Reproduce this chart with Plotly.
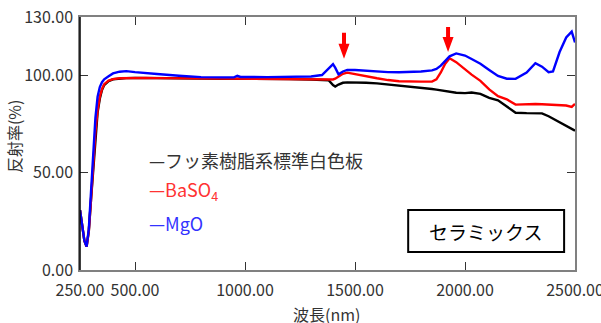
import plotly.graph_objects as go

# Wavelength grid (nm)
wavelength = [250, 260, 270, 280, 290, 300, 310, 320, 330, 340, 350, 360, 380, 400, 430, 460,
              500, 550, 600, 700, 800, 900, 950, 965, 980, 1100, 1200, 1300, 1350, 1380, 1400,
              1410, 1425, 1445, 1465, 1500, 1550, 1600, 1650, 1700, 1800, 1850, 1870, 1890, 1910,
              1930, 1960, 2000, 2030, 2070, 2110, 2150, 2190, 2230, 2280, 2320, 2350, 2380,
              2400, 2430, 2460, 2485, 2500]

# Reflectance (%) of each reference material
fluoro_resin = [30.8, 22, 15, 12, 20, 36, 52, 70, 81, 88, 92.5, 95, 97, 98, 98.4, 98.6,
                98.7, 98.7, 98.6, 98.5, 98.4, 98.3, 98.3, 98.3, 98.3, 98.2, 98.1, 97.9, 97.8, 97.5, 95.0,
                94.3, 95.3, 96.2, 96.4, 96.4, 96.2, 95.9, 95.4, 94.8, 93.6, 93.0, 92.7, 92.4, 92.0,
                91.6, 91.1, 90.9, 91.2, 90.5, 88.4, 87.2, 84.0, 80.8, 80.6, 80.6, 80.5, 79.0,
                77.8, 76.0, 74.2, 72.6, 71.6]
baso4 = [30.8, 22, 15, 12, 20, 36, 53, 71, 82, 89, 93, 95.5, 97.3, 98.1, 98.5, 98.6,
         98.7, 98.7, 98.6, 98.5, 98.4, 98.3, 98.3, 98.3, 98.3, 98.2, 98.1, 97.9, 97.8, 97.7, 97.9,
         98.3, 99.5, 100.8, 101.4, 100.6, 99.4, 98.5, 97.6, 97.0, 96.8, 96.8, 98.0, 101.5, 106.0,
         108.8, 106.8, 103.0, 100.4, 97.2, 92.8, 89.3, 87.7, 85.0, 85.3, 85.3, 85.2, 85.0,
         85.1, 84.8, 84.5, 83.8, 85.3]
mgo = [30.8, 22, 15, 12, 21, 40, 60, 78, 89, 94, 96.5, 98, 99.5, 101, 101.9, 102.2,
       101.7, 101.1, 100.7, 99.8, 99.1, 99.0, 99.0, 99.8, 99.2, 99.1, 99.2, 99.4, 100.2, 103.5, 105.8,
       104.0, 100.6, 102.0, 102.8, 102.8, 102.4, 102.0, 101.7, 101.6, 102.0, 102.6, 103.3, 105.0, 107.5,
       109.8, 111.3, 110.2, 108.4, 106.0, 102.8, 99.7, 98.3, 98.2, 101.5, 106.3, 104.5, 101.6,
       102.0, 112.0, 119.5, 122.5, 116.9]

series_names = ["フッ素樹脂系標準白色板", "BaSO<sub>4</sub>", "MgO"]
series_values = [fluoro_resin, baso4, mgo]
series_colors = ["#000000", "#ff0000", "#0000ff"]
label_colors = ["#333333", "#ff3333", "#3333ff"]

x_ticks = [250, 500, 1000, 1500, 2000, 2500]
y_ticks = [0, 50, 100, 130]

# Red marker arrows at the absorption features (wavelength, tip reflectance)
arrow_wl = [1450, 1923]
arrow_tip = [108.5, 112.0]
arrow_shaft = [26, 25]

FONT = "Noto Sans CJK JP"

fig = go.Figure()
for vals, col in zip(series_values, series_colors):
    fig.add_trace(go.Scatter(x=wavelength, y=vals, mode="lines",
                             line=dict(color=col, width=2.4), showlegend=False,
                             hoverinfo="skip"))

shapes = []
for wl, tip, shaft in zip(arrow_wl, arrow_tip, arrow_shaft):
    path = (f"M 0 0 L -5.5 15 L -2 15 L -2 {shaft} L 2 {shaft} "
            f"L 2 15 L 5.5 15 Z")
    shapes.append(dict(type="path", xref="x", yref="y", xsizemode="pixel",
                       ysizemode="pixel", xanchor=wl, yanchor=tip, path=path,
                       fillcolor="#ff0000", line=dict(width=0)))

# left axis line drawn in black over the grey frame
shapes.append(dict(type="line", xref="paper", yref="paper", x0=0, x1=0, y0=0, y1=1,
                   line=dict(color="#000000", width=1.5)))
# label box
shapes.append(dict(type="rect", xref="paper", yref="paper", x0=0.663, x1=0.978,
                   y0=0.071, y1=0.237, line=dict(color="#000000", width=2),
                   fillcolor="rgba(0,0,0,0)"))

annotations = []
legend_y = [0.435, 0.316, 0.186]
for name, col, ly in zip(series_names, label_colors, legend_y):
    annotations.append(dict(xref="paper", yref="paper", x=0.136, y=ly, xanchor="left",
                            yanchor="middle", showarrow=False, text="—" + name,
                            font=dict(family=FONT, size=18, color=col)))
annotations.append(dict(xref="paper", yref="paper", x=0.820, y=0.154, showarrow=False,
                        text="セラミックス", xanchor="center", yanchor="middle",
                        font=dict(family=FONT, size=19, color="#000000")))
annotations.append(dict(xref="paper", yref="paper", x=-0.133, y=0.53, showarrow=False,
                        text="反射率(%)", textangle=-90, xanchor="center", yanchor="middle",
                        font=dict(family=FONT, size=16, color="#333333")))
annotations.append(dict(xref="paper", yref="paper", x=0.497, y=-0.175, showarrow=False,
                        text="波長(nm)", xanchor="center", yanchor="middle",
                        font=dict(family=FONT, size=16, color="#333333")))

fig.update_layout(
    width=601, height=323,
    margin=dict(l=80, r=26, t=17, b=53, autoexpand=False),
    paper_bgcolor="white", plot_bgcolor="white",
    font=dict(family=FONT, size=16, color="#333333"),
    shapes=shapes, annotations=annotations,
)
fig.update_xaxes(range=[250, 2500], tickvals=x_ticks,
                 ticktext=[f"{v:.2f}" for v in x_ticks], automargin=False,
                 ticklabeloverflow="allow",
                 showgrid=False, zeroline=False, showline=True, linecolor="#808080",
                 linewidth=1.5, mirror="ticks", ticks="inside", ticklen=8,
                 tickcolor="#333333", tickwidth=1, ticklabelstandoff=5)
fig.update_yaxes(range=[0, 130], tickvals=y_ticks,
                 ticktext=[f"{v:.2f}" for v in y_ticks], automargin=False,
                 ticklabeloverflow="allow",
                 showgrid=False, zeroline=False, showline=True, linecolor="#808080",
                 linewidth=1.5, mirror="ticks", ticks="inside", ticklen=8,
                 tickcolor="#333333", tickwidth=1, ticklabelstandoff=2)

fig.write_html("out.html")
